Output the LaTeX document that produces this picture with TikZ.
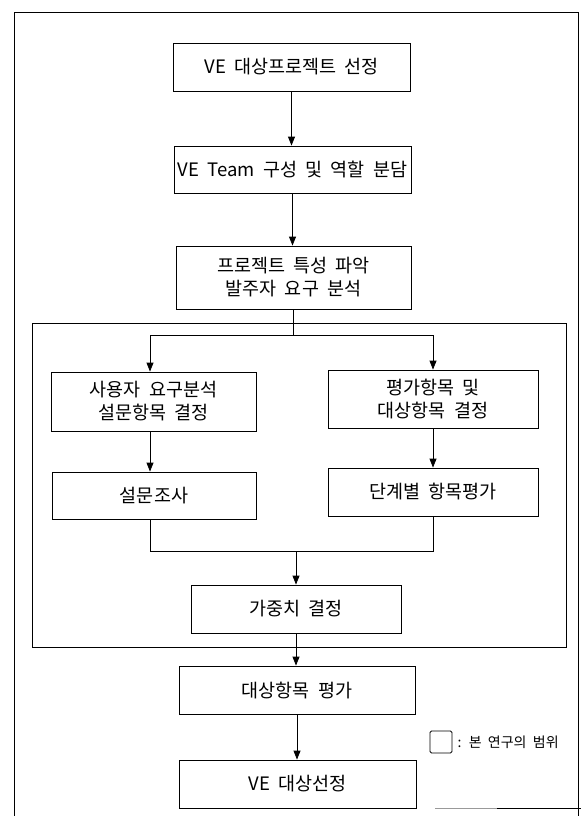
\documentclass[tikz,border=0pt]{standalone}
\usepackage{fontspec}
\setmainfont{Noto Sans CJK KR}[WordSpace=2]
\usetikzlibrary{arrows.meta}
\begin{document}
\begin{tikzpicture}[x=1pt,y=-1pt,
  box/.style={draw, line width=0.8pt, inner sep=0pt, align=center, font=\fontsize{18.5}{23}\selectfont},
  arr/.style={line width=0.8pt, -{Triangle[length=9pt,width=7pt]}},
  ln/.style={line width=0.8pt},
  frm/.style={draw, line width=0.8pt, inner sep=0pt}]
\useasboundingbox (0,0) rectangle (581,816);
% outer frame
\draw[ln] (14,816) -- (14,12) -- (578,12) -- (578,816);
\draw[line width=0.8pt, black!40] (435,808) -- (497,808);
\draw[ln] (497,808) -- (581,808);
% inner scope frame
\node[frm, minimum width=534, minimum height=324] (scope) at (299,485) {};
% boxes
\node[box, minimum width=237, minimum height=48] (b1) at (291.5,67) {VE 대상프로젝트 선정};
\node[box, minimum width=237, minimum height=47] (b2) at (292.5,169.5) {VE Team 구성 및 역할 분담};
\node[box, minimum width=235, minimum height=63] (b3) at (293.5,277.5) {프로젝트 특성 파악\\발주자 요구 분석};
\node[box, minimum width=205, minimum height=59] (L1) at (153.5,401.5) {사용자 요구분석\\설문항목 결정};
\node[box, minimum width=210, minimum height=58] (R1) at (433,399) {평가항목 및\\대상항목 결정};
\node[box, minimum width=204, minimum height=47] (L2) at (154,495.5) {설문조사};
\node[box, minimum width=210, minimum height=48] (R2) at (433,492) {단계별 항목평가};
\node[box, minimum width=210, minimum height=48] (W) at (296,609) {가중치 결정};
\node[box, minimum width=236, minimum height=48] (Q) at (297,690) {대상항목 평가};
\node[box, minimum width=237, minimum height=48] (F) at (297.5,784) {VE 대상선정};
% legend
\node[draw, line width=0.8pt, rounded corners=1.5pt, minimum width=22, minimum height=22, inner sep=0pt] (lg) at (441,742) {};
\node[anchor=west, inner sep=0pt, font=\fontsize{14}{16}\selectfont] (lgt) at ([xshift=5pt]lg.east) {: 본 연구의 범위};
% connectors
\draw[arr] (b1.south) -- (b1.south |- b2.north);
\draw[arr] (b2.south) -- (b2.south |- b3.north);
\coordinate (brL) at (150,335);
\coordinate (brR) at (433,335);
\coordinate (br) at (b3.south |- brL);
\draw[ln] (b3.south) -- (br);
\draw[arr] (br) -- (brL) -- (brL |- L1.north);
\draw[arr] (br) -- (brR) -- (brR |- R1.north);
\draw[arr] (brL |- L1.south) -- (brL |- L2.north);
\draw[arr] (brR |- R1.south) -- (brR |- R2.north);
\coordinate (jn) at (296,551);
\draw[ln] (brL |- L2.south) -- (brL |- jn) -- (brR |- jn) -- (brR |- R2.south);
\draw[arr] (jn) -- (W.north);
\draw[arr] (W.south) -- (W.south |- Q.north);
\draw[arr] (Q.south) -- (Q.south |- F.north);
\end{tikzpicture}
\end{document}
